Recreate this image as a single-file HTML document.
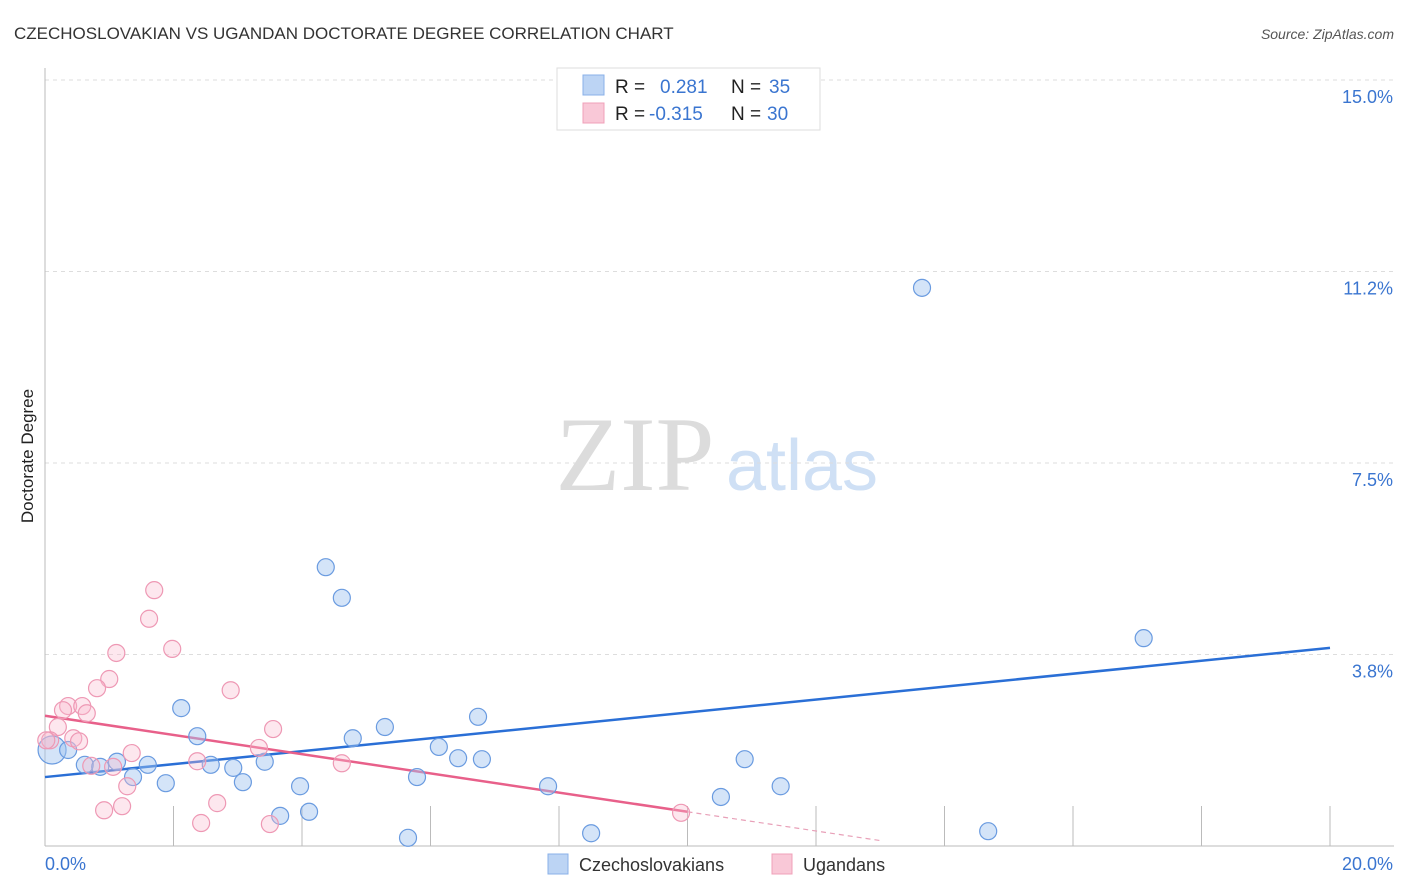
<!DOCTYPE html>
<html><head><meta charset="utf-8"><style>
body{margin:0;background:#fff;font-family:"Liberation Sans",sans-serif;}
svg{display:block}
</style></head><body>
<svg id="chart" width="1406" height="892" xmlns="http://www.w3.org/2000/svg">
<text x="14" y="39" font-size="17" fill="#333">CZECHOSLOVAKIAN VS UGANDAN DOCTORATE DEGREE CORRELATION CHART</text>
<text x="1394" y="39" font-size="14" fill="#555" font-style="italic" text-anchor="end">Source: ZipAtlas.com</text>
<g>
<text x="635" y="490" font-size="106" font-family="Liberation Serif,serif" fill="#dcdcdc" text-anchor="middle">ZIP</text>
<text x="802" y="490" font-size="72" fill="#cfe0f5" text-anchor="middle">atlas</text>
</g>
<g id="grid"></g>
<g id="axes"></g>
<g id="lines"></g>
<g id="points"></g>
<text x="33" y="456" font-size="17" fill="#222" text-anchor="middle" transform="rotate(-90 33 456)">Doctorate Degree</text>
<text x="45" y="870" font-size="18" fill="#3a75d0">0.0%</text>
<text x="1393" y="870" font-size="18" fill="#3a75d0" text-anchor="end">20.0%</text>
<g>
<rect x="557" y="68" width="263" height="62" fill="#fff" stroke="#ddd"/>
<rect x="583" y="75" width="21" height="20" fill="#bcd4f4" stroke="#8ab0e8"/>
<rect x="583" y="103" width="21" height="20" fill="#f9c8d7" stroke="#f0a0b8"/>
<text x="615" y="93" font-size="19" fill="#222">R =</text>
<text x="660" y="93" font-size="19" fill="#3a75d0">0.281</text>
<text x="731" y="93" font-size="19" fill="#222">N =</text>
<text x="769" y="93" font-size="19" fill="#3a75d0">35</text>
<text x="615" y="120" font-size="19" fill="#222">R =</text>
<text x="649" y="120" font-size="19" fill="#3a75d0">-0.315</text>
<text x="731" y="120" font-size="19" fill="#222">N =</text>
<text x="767" y="120" font-size="19" fill="#3a75d0">30</text>
</g>
<g>
<rect x="548" y="854" width="20" height="20" fill="#bcd4f4" stroke="#8ab0e8"/>
<text x="579" y="871" font-size="18" fill="#333">Czechoslovakians</text>
<rect x="772" y="854" width="20" height="20" fill="#f9c8d7" stroke="#f0a0b8"/>
<text x="803" y="871" font-size="18" fill="#333">Ugandans</text>
</g>
</svg>
<script>
const yTicks=[15.0,11.25,7.5,3.75];
const yTickLabels=["15.0%","11.2%","7.5%","3.8%"];
const xTicks=[2,4,6,8,10,12,14,16,18,20];
const blueX=[0.11,0.36,0.62,0.86,1.12,1.37,1.60,1.88,2.12,2.37,2.58,2.93,3.08,3.42,3.66,3.97,4.11,4.37,4.62,4.79,5.29,5.65,5.79,6.13,6.43,6.74,6.80,7.83,8.50,10.52,10.89,11.45,13.65,14.68,17.10];
const blueY=[1.88,1.88,1.59,1.55,1.65,1.35,1.59,1.23,2.70,2.15,1.59,1.53,1.25,1.65,0.59,1.17,0.67,5.46,4.86,2.11,2.33,0.16,1.35,1.94,1.72,2.53,1.70,1.17,0.25,0.96,1.70,1.17,10.93,0.29,4.07];
const pinkX=[1.70,1.62,1.98,1.11,1.00,0.81,2.89,0.36,0.58,0.28,0.65,3.55,0.20,0.08,0.44,0.53,3.33,1.35,2.37,4.62,0.72,1.06,1.28,2.68,1.20,0.92,2.43,3.50,9.90,0.02];
const pinkY=[5.01,4.45,3.86,3.78,3.27,3.09,3.05,2.74,2.74,2.66,2.60,2.29,2.33,2.07,2.11,2.05,1.92,1.82,1.66,1.62,1.57,1.55,1.17,0.84,0.78,0.70,0.45,0.43,0.65,2.07];
const blueTrend=[1.35,3.88];
const pinkTrend=[2.55,0.67,10.0,13.0];
const X=v=>45+v/20*1285, Y=v=>846-v/15*766;
const NS="http://www.w3.org/2000/svg";
function mk(p,t,a){const e=document.createElementNS(NS,t);for(const k in a)e.setAttribute(k,a[k]);p.appendChild(e);return e;}
const grid=document.getElementById('grid'),axes=document.getElementById('axes'),lines=document.getElementById('lines'),pts=document.getElementById('points');
yTicks.forEach((t,i)=>{
 const l=mk(grid,'line',{x1:45,x2:1394,y1:Y(t),y2:Y(t),stroke:'#ddd','stroke-dasharray':'4,4'});
 
 
 const tx=mk(grid,'text',{x:1393,y:Y(t)+23,'font-size':18,fill:'#3a75d0','text-anchor':'end'});
 tx.textContent=yTickLabels[i];
 
 
});
const ax=mk(axes,'line',{x1:45,x2:45,y1:68,y2:846,stroke:'#bbb'});


const bx=mk(axes,'line',{x1:45,x2:1394,y1:846,y2:846,stroke:'#bbb'});


xTicks.forEach(t=>{
 const l=mk(axes,'line',{x1:X(t),x2:X(t),y1:806,y2:846,stroke:'#bbb'});
 
 
});
blueX.forEach((x,i)=>{
 const c=mk(pts,'circle',{cx:X(x),cy:Y(blueY[i]),r:i===0?14:8.5,fill:'rgba(160,195,240,0.45)',stroke:'#6a9be0','stroke-width':1.2});
 
 
});
pinkX.forEach((x,i)=>{
 const c=mk(pts,'circle',{cx:X(x),cy:Y(pinkY[i]),r:8.5,fill:'rgba(248,185,205,0.35)',stroke:'#ee98b4','stroke-width':1.2});
 
 
});
const bl=mk(lines,'line',{x1:X(0),y1:Y(blueTrend[0]),x2:X(20),y2:Y(blueTrend[1]),stroke:'#2a6fd6','stroke-width':2.5});


const slope=(pinkTrend[1]-pinkTrend[0])/pinkTrend[2];
const pl=mk(lines,'line',{x1:X(0),y1:Y(pinkTrend[0]),x2:X(pinkTrend[2]),y2:Y(pinkTrend[1]),stroke:'#e8608a','stroke-width':2.5});


const pd=mk(lines,'line',{x1:X(pinkTrend[2]),y1:Y(pinkTrend[1]),x2:X(pinkTrend[3]),y2:Y(pinkTrend[0]+slope*pinkTrend[3]),stroke:'#e8a0b8','stroke-width':1.2,'stroke-dasharray':'5,4'});


</script>
</body></html>
